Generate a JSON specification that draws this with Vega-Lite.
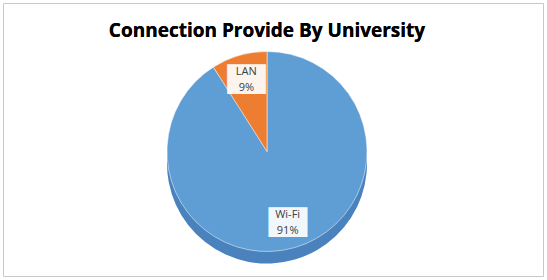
{
  "$schema": "https://vega.github.io/schema/vega-lite/v6.json",
  "width": 540,
  "height": 273,
  "padding": {"left": 3, "top": 3, "right": 4, "bottom": 4},
  "autosize": {"type": "none"},
  "background": "white",
  "view": {"stroke": "#c8c8c8", "strokeWidth": 1},
  "data": {"values": [
    {"category": "Wi-Fi", "share": 0.91, "order": 1},
    {"category": "LAN", "share": 0.09, "order": 2}
  ]},
  "encoding": {
    "theta": {"field": "share", "type": "quantitative", "stack": true},
    "order": {"field": "order", "type": "quantitative"}
  },
  "layer": [
    {
      "mark": {"type": "arc", "outerRadius": 100, "x": {"expr": "width/2 - 6"}, "y": {"expr": "height/2 + 24"}, "fill": "#4a82bd"},
      "encoding": {}
    },
    {
      "mark": {"type": "arc", "outerRadius": 100, "x": {"expr": "width/2 - 6"}, "y": {"expr": "height/2 + 12"}, "stroke": "#ffffff", "strokeWidth": 0.5},
      "encoding": {
        "color": {"field": "category", "type": "nominal", "scale": {"domain": ["Wi-Fi", "LAN"], "range": ["#5f9dd5", "#ed7d31"]}, "legend": null}
      }
    },
    {
      "mark": {"type": "text", "text": "██", "radius": 74, "x": {"expr": "width/2 - 6"}, "y": {"expr": "height/2 + 12"}, "font": "DejaVu Sans", "fontSize": 25, "color": "#ffffff", "opacity": 0.92, "baseline": "middle"},
      "encoding": {}
    },
    {
      "mark": {"type": "text", "radius": 74, "x": {"expr": "width/2 - 6"}, "y": {"expr": "height/2 + 4"}, "font": "Open Sans", "fontSize": 11, "color": "#404040"},
      "encoding": {"text": {"field": "category", "type": "nominal"}}
    },
    {
      "mark": {"type": "text", "radius": 74, "x": {"expr": "width/2 - 6"}, "y": {"expr": "height/2 + 20"}, "font": "Open Sans", "fontSize": 11, "color": "#404040"},
      "encoding": {"text": {"field": "share", "type": "quantitative", "format": ".0%"}}
    },
    {
      "mark": {"type": "text", "text": "Connection Provide By University", "x": {"expr": "width/2 - 6"}, "y": 28, "font": "Open Sans", "fontSize": 19, "fontWeight": "bold", "color": "#000000"},
      "encoding": {"theta": null, "order": null}
    }
  ]
}
